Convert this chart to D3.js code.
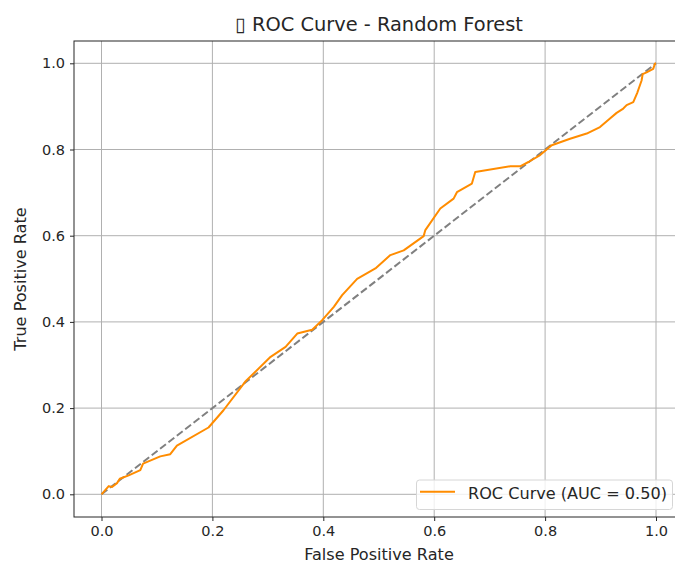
<!DOCTYPE html>
<html>
<head>
<meta charset="utf-8">
<script src="https://cdn.jsdelivr.net/npm/d3@7"></script>
<style>
  body { margin: 0; background: #fff; overflow: hidden; }
  text { font-family: "DejaVu Sans", sans-serif; fill: #262626; }
</style>
</head>
<body>
<script>
// ROC curve points
let fpr = [0, 0.013, 0.019, 0.028, 0.033, 0.049, 0.070, 0.075, 0.106, 0.124, 0.136, 0.193, 0.220, 0.259,
  0.305, 0.332, 0.353, 0.380, 0.398, 0.419, 0.434, 0.461, 0.494, 0.521, 0.545, 0.581, 0.584,
  0.611, 0.635, 0.641, 0.668, 0.674, 0.737, 0.755, 0.770, 0.791, 0.812, 0.845, 0.875, 0.899,
  0.917, 0.929, 0.941, 0.947, 0.959, 0.966, 0.971, 0.974, 0.976, 0.983, 0.995, 0.998, 1.0]
let tpr = [0, 0.019, 0.017, 0.026, 0.036, 0.044, 0.056, 0.071, 0.088, 0.093, 0.113, 0.155, 0.195, 0.261,
  0.319, 0.342, 0.373, 0.382, 0.404, 0.435, 0.462, 0.500, 0.524, 0.555, 0.566, 0.599, 0.613,
  0.663, 0.686, 0.701, 0.721, 0.748, 0.761, 0.761, 0.771, 0.787, 0.810, 0.825, 0.837, 0.852,
  0.872, 0.885, 0.895, 0.903, 0.910, 0.931, 0.949, 0.960, 0.975, 0.979, 0.987, 0.999, 1.0]
let ticks = [0, 0.2, 0.4, 0.6, 0.8, 1.0]
let aucLabel = "ROC Curve (AUC = 0.50)"
let titleText = "\u25AF ROC Curve - Random Forest"

let svgWidth = 675
let svgHeight = 564
// the axes run past the right edge of the picture
let mLeft = 74, mRight = 684, mTop = 41, mBottom = 517

let svg = d3.select("body").append("svg")
    .attr("width", svgWidth)
    .attr("height", svgHeight)

let x = d3.scaleLinear().domain([0, 1]).range([101.5, 656])
let y = d3.scaleLinear().domain([0, 1]).range([494.3, 63.3])

// grid
let grid = svg.append("g")
grid.selectAll("line.gx").data(ticks).enter().append("line")
    .attr("class", "gx")
    .attr("x1", d => x(d)).attr("x2", d => x(d))
    .attr("y1", mTop).attr("y2", mBottom)
    .attr("stroke", "#b0b0b0").attr("stroke-width", 1)
grid.selectAll("line.gy").data(ticks).enter().append("line")
    .attr("class", "gy")
    .attr("x1", mLeft).attr("x2", mRight)
    .attr("y1", d => y(d)).attr("y2", d => y(d))
    .attr("stroke", "#b0b0b0").attr("stroke-width", 1)

let line = d3.line().x(d => x(d[0])).y(d => y(d[1]))

// chance line
svg.append("path")
    .datum([[0, 0], [1, 1]])
    .attr("d", line)
    .attr("fill", "none")
    .attr("stroke", "gray")
    .attr("stroke-width", 2)
    .attr("stroke-dasharray", "7.4,3.2")

// roc curve
svg.append("path")
    .datum(fpr.map((f, i) => [f, tpr[i]]))
    .attr("d", line)
    .attr("fill", "none")
    .attr("stroke", "darkorange")
    .attr("stroke-width", 2)
    .attr("stroke-linejoin", "round")

// axes
let xAxis = svg.append("g")
    .attr("transform", `translate(0,${mBottom})`)
    .call(d3.axisBottom(x).tickValues(ticks).tickFormat(d3.format(".1f")).tickSizeOuter(0).tickSize(4).tickPadding(5))
let yAxis = svg.append("g")
    .attr("transform", `translate(${mLeft},0)`)
    .call(d3.axisLeft(y).tickValues(ticks).tickFormat(d3.format(".1f")).tickSizeOuter(0).tickSize(4).tickPadding(5))
for (let a of [xAxis, yAxis]) {
    a.select(".domain").remove()
    a.selectAll("text").style("font-size", "14.5px").style("font-family", "DejaVu Sans").attr("fill", "#262626")
    a.selectAll("line").attr("stroke", "#262626")
}

svg.append("rect")
    .attr("x", mLeft).attr("y", mTop)
    .attr("width", mRight - mLeft).attr("height", mBottom - mTop)
    .attr("fill", "none").attr("stroke", "#262626").attr("stroke-width", 1)

// labels
svg.append("text")
    .attr("x", (mLeft + mRight) / 2).attr("y", 31)
    .attr("text-anchor", "middle")
    .style("font-size", "19.4px")
    .text(titleText)
svg.append("text")
    .attr("x", (mLeft + mRight) / 2).attr("y", 560)
    .attr("text-anchor", "middle")
    .style("font-size", "16.1px")
    .text("False Positive Rate")
svg.append("text")
    .attr("transform", `translate(26,${(mTop + mBottom) / 2}) rotate(-90)`)
    .attr("text-anchor", "middle")
    .style("font-size", "16.1px")
    .text("True Positive Rate")

// legend
let lg = svg.append("g")
lg.append("rect")
    .attr("x", 416.5).attr("y", 480).attr("width", 256).attr("height", 29.5).attr("rx", 3)
    .attr("fill", "white").attr("fill-opacity", 0.8)
    .attr("stroke", "#d6d6d6")
lg.append("line")
    .attr("x1", 420).attr("x2", 455).attr("y1", 491.7).attr("y2", 491.7)
    .attr("stroke", "darkorange").attr("stroke-width", 2)
lg.append("text")
    .attr("x", 468).attr("y", 499)
    .style("font-size", "16.1px")
    .text(aucLabel)
</script>
</body>
</html>
